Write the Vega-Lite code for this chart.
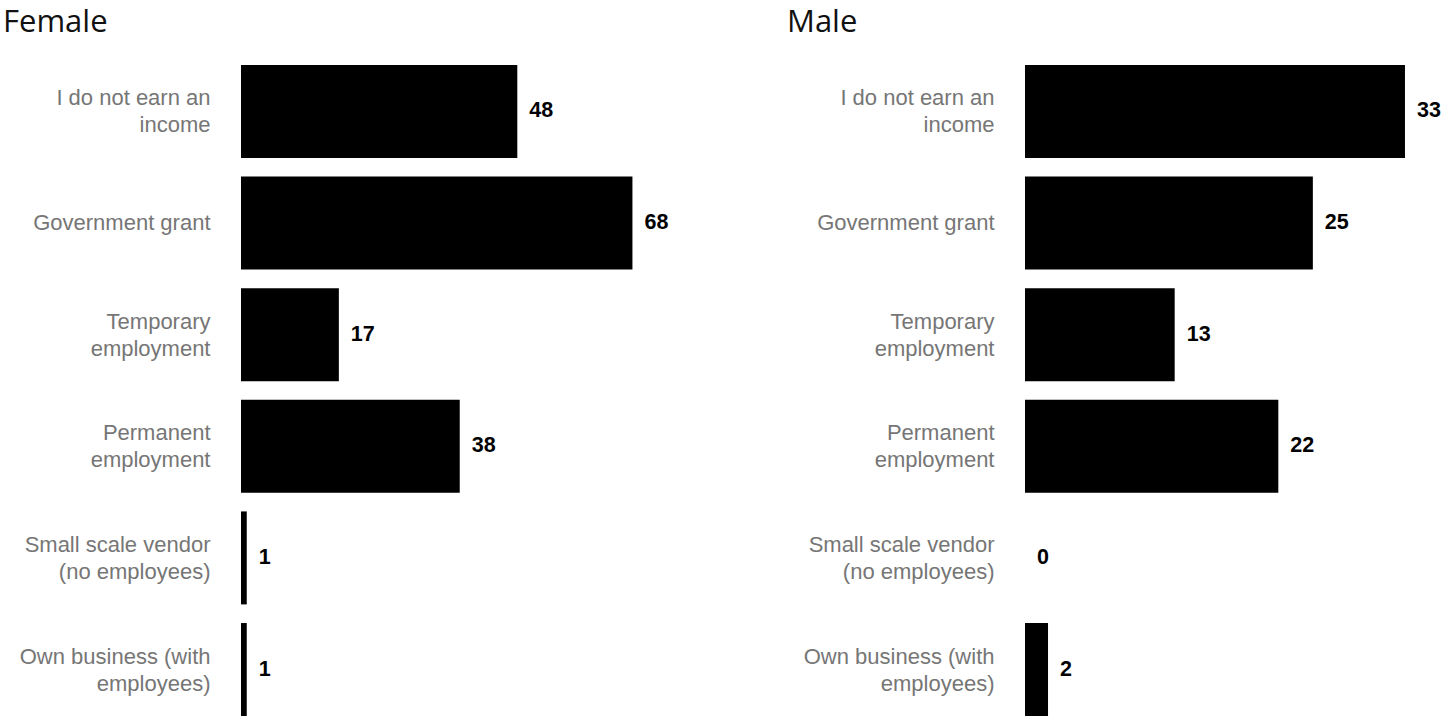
{
  "$schema": "https://vega.github.io/schema/vega-lite/v6.json",
  "background": "white",
  "padding": {"left": 3, "top": 7, "right": 0, "bottom": 2},
  "spacing": 97,
  "config": {
    "view": {"stroke": null},
    "title": {"font": "Open Sans", "fontSize": 31, "fontWeight": "normal", "color": "#111111", "anchor": "start", "frame": "group", "dx": -238, "offset": 26},
    "axisY": {
      "title": null, "domain": false, "ticks": false, "grid": false,
      "labelPadding": 31, "labelFont": "Liberation Sans", "labelFontSize": 22,
      "labelColor": "#767676", "labelLineHeight": 27, "labelLimit": 0,
      "labelOffset": {"condition": {"test": "datum.value != 'Government grant'", "value": -13}, "value": 0},
      "labelExpr": "datum.value == 'I do not earn an income' ? ['I do not earn an', 'income'] : datum.value == 'Temporary employment' ? ['Temporary', 'employment'] : datum.value == 'Permanent employment' ? ['Permanent', 'employment'] : datum.value == 'Small scale vendor (no employees)' ? ['Small scale vendor', '(no employees)'] : datum.value == 'Own business (with employees)' ? ['Own business (with', 'employees)'] : datum.value"
    }
  },
  "datasets": {
    "rows": [
      {"gender": "Female", "category": "I do not earn an income", "value": 48},
      {"gender": "Female", "category": "Government grant", "value": 68},
      {"gender": "Female", "category": "Temporary employment", "value": 17},
      {"gender": "Female", "category": "Permanent employment", "value": 38},
      {"gender": "Female", "category": "Small scale vendor (no employees)", "value": 1},
      {"gender": "Female", "category": "Own business (with employees)", "value": 1},
      {"gender": "Male", "category": "I do not earn an income", "value": 33},
      {"gender": "Male", "category": "Government grant", "value": 25},
      {"gender": "Male", "category": "Temporary employment", "value": 13},
      {"gender": "Male", "category": "Permanent employment", "value": 22},
      {"gender": "Male", "category": "Small scale vendor (no employees)", "value": 0},
      {"gender": "Male", "category": "Own business (with employees)", "value": 2}
    ]
  },
  "hconcat": [
    {
      "title": "Female",
      "data": {"name": "rows"},
      "transform": [{"filter": "datum.gender == 'Female'"}],
      "width": 449,
      "height": 651,
      "encoding": {
        "y": {"field": "category", "type": "nominal",
          "sort": ["I do not earn an income", "Government grant", "Temporary employment", "Permanent employment", "Small scale vendor (no employees)", "Own business (with employees)"],
          "scale": {"paddingInner": 0.167, "paddingOuter": 0}},
        "x": {"field": "value", "type": "quantitative", "scale": {"domain": [0, 78]}, "axis": null}
      },
      "layer": [
        {"mark": {"type": "bar", "color": "#000000"}},
        {"mark": {"type": "text", "align": "left", "baseline": "middle", "dx": 12, "font": "Liberation Sans", "fontWeight": "bold", "fontSize": 21.5, "color": "#000000"},
         "encoding": {"text": {"field": "value", "type": "quantitative"}}}
      ]
    },
    {
      "title": "Male",
      "data": {"name": "rows"},
      "transform": [{"filter": "datum.gender == 'Male'"}],
      "width": 403,
      "height": 651,
      "encoding": {
        "y": {"field": "category", "type": "nominal",
          "sort": ["I do not earn an income", "Government grant", "Temporary employment", "Permanent employment", "Small scale vendor (no employees)", "Own business (with employees)"],
          "scale": {"paddingInner": 0.167, "paddingOuter": 0}},
        "x": {"field": "value", "type": "quantitative", "scale": {"domain": [0, 35]}, "axis": null}
      },
      "layer": [
        {"mark": {"type": "bar", "color": "#000000"}},
        {"mark": {"type": "text", "align": "left", "baseline": "middle", "dx": 12, "font": "Liberation Sans", "fontWeight": "bold", "fontSize": 21.5, "color": "#000000"},
         "encoding": {"text": {"field": "value", "type": "quantitative"}}}
      ]
    }
  ]
}
